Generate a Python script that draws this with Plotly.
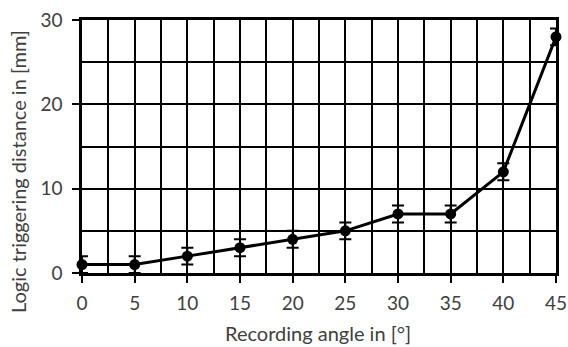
import plotly.graph_objects as go

angles = [0, 5, 10, 15, 20, 25, 30, 35, 40, 45]
distance = [1, 1, 2, 3, 4, 5, 7, 7, 12, 28]
err = [1, 1, 1, 1, 1, 1, 1, 1, 1, 1]

x_title = "Recording angle in [°]"
y_title = "Logic triggering distance in [mm]"

fig = go.Figure()
fig.add_trace(go.Scatter(
    x=angles, y=distance, mode="lines+markers",
    line=dict(color="black", width=3),
    marker=dict(color="black", size=11),
    error_y=dict(type="data", array=err, visible=True, color="black", thickness=2, width=6),
    cliponaxis=False, showlegend=False,
))

font = "Lato, 'Open Sans', sans-serif"
L, R, T, B = 82, 12, 20, 74
W, H = 568, 347
pw, ph = W - L - R, H - T - B

fig.update_layout(
    width=W, height=H,
    margin=dict(l=L, r=R, t=T, b=B, autoexpand=False),
    paper_bgcolor="white", plot_bgcolor="white",
    font=dict(family=font, color="#404040", size=19),
    xaxis=dict(
        range=[0, 45], dtick=5, tick0=0, automargin=False,
        showgrid=True, gridcolor="black", gridwidth=1.5,
        minor=dict(dtick=2.5, showgrid=True, gridcolor="black", gridwidth=1.5),
        showline=True, linecolor="black", linewidth=2.5, mirror=True,
        ticks="outside", ticklen=7, tickwidth=2, tickcolor="black",
        ticklabelstandoff=4,
        zeroline=False,
    ),
    yaxis=dict(
        range=[0, 30], dtick=10, tick0=0, automargin=False,
        showgrid=True, gridcolor="black", gridwidth=1.5,
        minor=dict(dtick=5, showgrid=True, gridcolor="black", gridwidth=1.5),
        showline=True, linecolor="black", linewidth=2.5, mirror=True,
        ticks="outside", ticklen=7, tickwidth=2, tickcolor="black",
        ticklabelstandoff=6,
        zeroline=False,
    ),
    annotations=[
        dict(text=x_title, xref="paper", yref="paper",
             x=(318 - L) / pw, y=(H - B - 333) / ph,
             xanchor="center", yanchor="middle", showarrow=False,
             font=dict(size=20, family=font, color="#404040")),
        dict(text=y_title, xref="paper", yref="paper",
             x=(18 - L) / pw, y=(H - B - 172) / ph, textangle=-90,
             xanchor="center", yanchor="middle", showarrow=False,
             font=dict(size=20, family=font, color="#404040")),
    ],
)

fig.write_html("out.html")
